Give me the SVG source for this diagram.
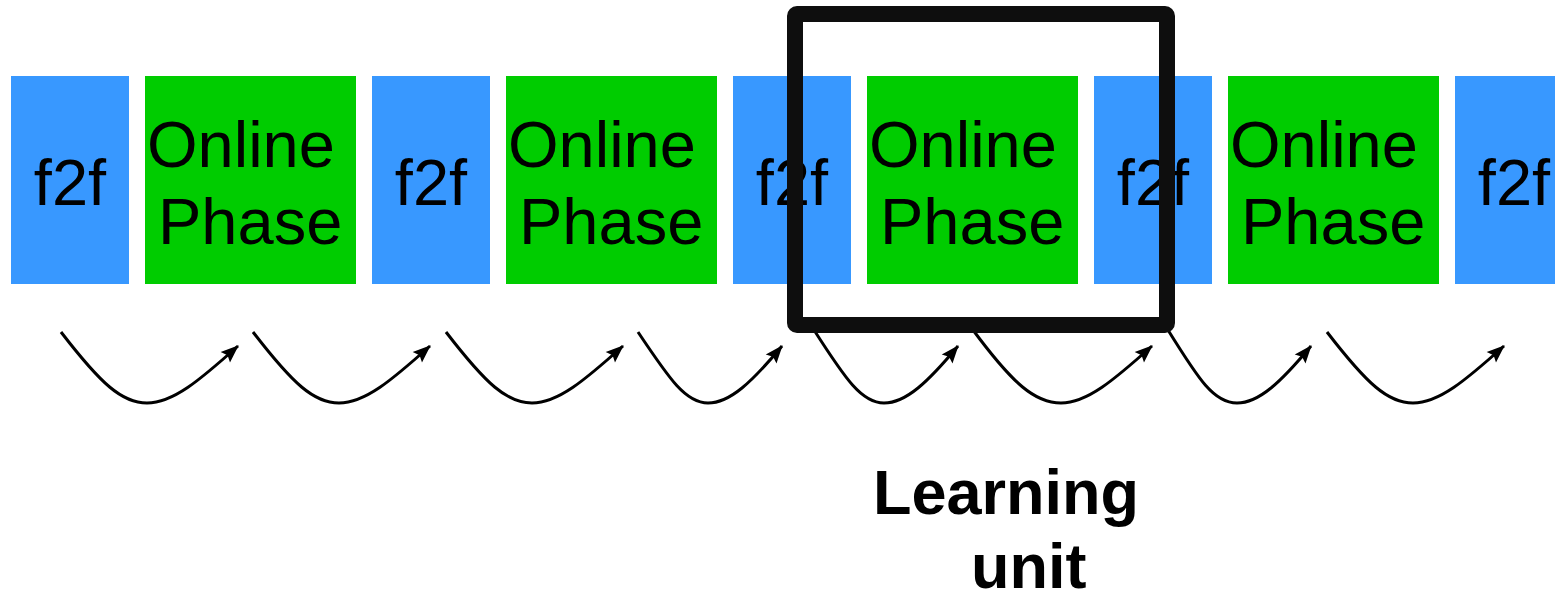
<svg xmlns="http://www.w3.org/2000/svg" width="1555" height="594" viewBox="0 0 1555 594">
<style>
.f2f{fill:#3898ff}
.on{fill:#00cc00}
.t{font-family:"Liberation Sans",Arial,sans-serif;font-size:65px;fill:#000}
.b{font-family:"Liberation Sans",Arial,sans-serif;font-size:63px;font-weight:bold;fill:#000}
.arr{fill:none;stroke:#000;stroke-width:3;marker-end:url(#ah)}
</style>
<defs>
<marker id="ah" markerUnits="userSpaceOnUse" markerWidth="20" markerHeight="16" refX="17" refY="7" orient="auto" viewBox="0 0 20 14" overflow="visible">
<path d="M0,0 L18,7 L0,14 L3,7 Z" fill="#000"/>
</marker>
</defs>
<rect width="1555" height="594" fill="#fff"/>
<g id="n1"><rect class="f2f" x="11" y="76" width="118" height="208"/><text class="t" x="70" y="205" text-anchor="middle">f2f</text></g>
<g id="n2"><rect class="on" x="145" y="76" width="211" height="208"/><text class="t" x="147" y="167">Online</text><text class="t" x="158" y="244">Phase</text></g>
<g id="n3"><rect class="f2f" x="372" y="76" width="118" height="208"/><text class="t" x="431" y="205" text-anchor="middle">f2f</text></g>
<g id="n4"><rect class="on" x="506" y="76" width="211" height="208"/><text class="t" x="508" y="167">Online</text><text class="t" x="519" y="244">Phase</text></g>
<g id="n5"><rect class="f2f" x="733" y="76" width="118" height="208"/><text class="t" x="792" y="205" text-anchor="middle">f2f</text></g>
<g id="n6"><rect class="on" x="867" y="76" width="211" height="208"/><text class="t" x="869" y="167">Online</text><text class="t" x="880" y="244">Phase</text></g>
<g id="n7"><rect class="f2f" x="1094" y="76" width="118" height="208"/><text class="t" x="1153" y="205" text-anchor="middle">f2f</text></g>
<g id="n8"><rect class="on" x="1228" y="76" width="211" height="208"/><text class="t" x="1230" y="167">Online</text><text class="t" x="1241" y="244">Phase</text></g>
<g id="n9"><rect class="f2f" x="1455" y="76" width="118" height="208"/><text class="t" x="1514" y="205" text-anchor="middle">f2f</text></g>
<g id="connectors">
<path class="arr" d="M61,332 C101,384 122,403 147,403 C173,403 200,380 238,346"/>
<path class="arr" d="M253,332 C293,384 314,403 339,403 C365,403 392,380 430,346"/>
<path class="arr" d="M446,332 C486,384 507,403 532,403 C558,403 585,380 623,346"/>
<path class="arr" d="M638,332 C670,380 686,403 708,403 C730,403 752,382 782,346"/>
<path class="arr" d="M814,330 C846,380 862,403 884,403 C906,403 928,382 958,346"/>
<path class="arr" d="M973,330 C1013,384 1035,403 1061,403 C1087,403 1114,380 1152,346"/>
<path class="arr" d="M1168,330 C1199,380 1214,403 1237,403 C1259,403 1281,382 1311,346"/>
<path class="arr" d="M1327,332 C1367,384 1388,403 1413,403 C1439,403 1466,380 1504,346"/>
</g>
<g id="learning-unit">
<rect x="795" y="14" width="372" height="311" rx="2" fill="none" stroke="#0e0e0e" stroke-width="16" stroke-linejoin="round"/>
<text class="b" x="873" y="514">Learning</text>
<text class="b" x="971" y="588">unit</text>
</g>
</svg>
